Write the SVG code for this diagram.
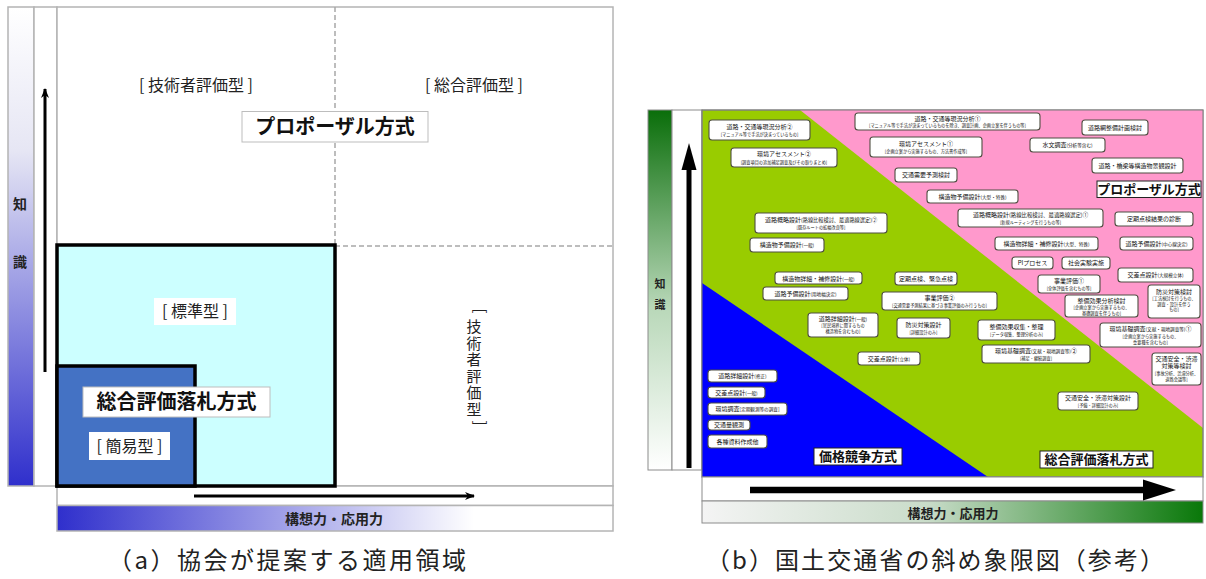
<svg xmlns="http://www.w3.org/2000/svg" width="1206" height="579" viewBox="0 0 1206 579">
<defs>
<linearGradient id="gaV" x1="0" y1="0" x2="0" y2="1"><stop offset="0" stop-color="#ffffff"/><stop offset="0.3" stop-color="#e6e6f4"/><stop offset="1" stop-color="#2f2fcc"/></linearGradient>
<linearGradient id="gaH" x1="0" y1="0" x2="1" y2="0"><stop offset="0" stop-color="#2f2fcc"/><stop offset="0.75" stop-color="#ffffff"/><stop offset="1" stop-color="#ffffff"/></linearGradient>
<linearGradient id="gbV" x1="0" y1="0" x2="0" y2="1"><stop offset="0" stop-color="#0a6e0a"/><stop offset="0.55" stop-color="#b9d8b9"/><stop offset="1" stop-color="#ffffff"/></linearGradient>
<linearGradient id="gbH" x1="0" y1="0" x2="1" y2="0"><stop offset="0" stop-color="#f4f4f4"/><stop offset="0.45" stop-color="#c9dcc9"/><stop offset="1" stop-color="#097809"/></linearGradient>
<marker id="ahA" markerWidth="10" markerHeight="8" refX="9" refY="4" orient="auto" markerUnits="userSpaceOnUse"><path d="M0,0 L10,4 L0,8 L3,4 Z" fill="#000"/></marker>
</defs>
<style>
.fr{fill:#fff;stroke:#b4b4b4;stroke-width:1.5}
.frb{fill:#fff;stroke:#8c8c8c;stroke-width:1}
.dash{stroke:#a8a8a8;stroke-width:1.5;stroke-dasharray:5,3;fill:none}
.thick{stroke:#000;stroke-width:3.5}
.jp{font-family:"Noto Sans CJK JP","Noto Sans CJK SC",sans-serif}
.la{font-size:16px;fill:#222;text-anchor:middle}
.lb{font-size:20px;font-weight:bold;fill:#111;text-anchor:middle}
.ax{font-size:14px;font-weight:bold;fill:#222;text-anchor:middle}
.cap{font-size:24px;fill:#222;text-anchor:middle}
.bx{fill:#fff;stroke:#4f4f42;stroke-width:1.1}
.n{font-size:6px;fill:#111;text-anchor:middle}
.s{font-size:4.2px;fill:#111;text-anchor:middle}
.p{font-size:4.6px}
.lab{fill:#fff;stroke:#222;stroke-width:1}
.lt{font-size:13px;font-weight:bold;fill:#111;text-anchor:middle}
</style>

<!-- Panel (a) -->
<g id="panel-a">
<rect x="8" y="7" width="26" height="479" fill="url(#gaV)" stroke="#b4b4b4" stroke-width="1.5"/>
<rect class="fr" x="34" y="7" width="23" height="479"/>
<rect class="fr" x="57" y="7" width="556" height="479"/>
<rect class="fr" x="57" y="486" width="556" height="19.5"/>
<rect x="57" y="505.5" width="556" height="25.5" fill="url(#gaH)" stroke="#b4b4b4" stroke-width="1.5"/>
<line class="dash" x1="335" y1="7" x2="335" y2="245"/>
<line class="dash" x1="335" y1="246" x2="613" y2="246"/>
<text class="jp ax" x="20" y="209">知</text>
<text class="jp ax" x="20" y="267">識</text>
<text class="jp ax" x="334" y="524">構想力・応用力</text>
</g>
<g id="a-standard">
<rect x="57" y="245" width="278" height="241" fill="#ccffff" class="thick"/>
<rect x="154" y="298" width="82" height="27" fill="#fff"/>
<text class="jp la" x="195" y="317">[ 標準型 ]</text>
</g>
<g id="a-simple">
<rect x="57" y="366" width="138" height="120" fill="#4472c4" class="thick"/>
<rect x="89" y="432" width="81" height="28" fill="#fff"/>
<text class="jp la" x="129.5" y="452">[ 簡易型 ]</text>
</g>
<g id="a-sogo">
<rect x="83" y="387" width="187" height="30" fill="#fff" stroke="#bdbdbd" stroke-width="1"/>
<text class="jp lb" x="176.5" y="409">総合評価落札方式</text>
</g>
<g id="a-proposal">
<rect x="242" y="111.5" width="186" height="30.5" fill="#fff" stroke="#bdbdbd" stroke-width="1"/>
<text class="jp lb" x="335" y="134">プロポーザル方式</text>
</g>
<g id="a-gijutsu">
<text class="jp la" x="196" y="91">[ 技術者評価型 ]</text>
</g>
<g id="a-sogohyoka">
<text class="jp la" x="474" y="91">[ 総合評価型 ]</text>
</g>
<g id="a-gijutsu-v">
<text class="jp" x="480" y="316" font-size="15" fill="#222" text-anchor="middle" transform="rotate(90 480 311)">[</text>
<text class="jp" x="474" y="319" font-size="15" letter-spacing="1.5" fill="#222" style="writing-mode:vertical-rl;text-orientation:upright">技術者評価型</text>
<text class="jp" x="480" y="428" font-size="15" fill="#222" text-anchor="middle" transform="rotate(90 480 423)">]</text>
</g>

<!-- Panel (b) -->
<g id="panel-b">
<rect x="648" y="110" width="24" height="360" fill="url(#gbV)" stroke="#8c8c8c" stroke-width="1"/>
<rect class="frb" x="672" y="110" width="30" height="360"/>
<rect x="702" y="110" width="501" height="367" fill="#99cc00" stroke="#8c8c8c" stroke-width="1"/>
<polygon points="800,110 1203,110 1203,428" fill="#ff99cc"/>
<polygon points="702,283 988,477 702,477" fill="#0000ff"/>
<rect x="702" y="110" width="501" height="367" fill="none" stroke="#7a7a7a" stroke-width="1"/>
<rect class="frb" x="702" y="477" width="501" height="24"/>
<rect x="702" y="501" width="501" height="22" fill="url(#gbH)" stroke="#8c8c8c" stroke-width="1"/>
<text class="jp" x="660" y="288" font-size="11" font-weight="bold" fill="#222" text-anchor="middle">知</text>
<text class="jp" x="660" y="309" font-size="11" font-weight="bold" fill="#222" text-anchor="middle">識</text>
<text class="jp" x="953" y="518" font-size="13" font-weight="bold" fill="#222" text-anchor="middle">構想力・応用力</text>
</g>

<g id="connectors">
<line x1="45" y1="372" x2="45" y2="89" stroke="#000" stroke-width="3" marker-end="url(#ahA)"/>
<line x1="194" y1="496" x2="474" y2="496" stroke="#000" stroke-width="3" marker-end="url(#ahA)"/>
<line x1="689" y1="468" x2="689" y2="168" stroke="#000" stroke-width="5"/>
<polygon points="689,143 681.5,170 696.5,170" fill="#000"/>
<line x1="750" y1="490" x2="1146" y2="490" stroke="#000" stroke-width="6.5"/>
<polygon points="1176,490 1143,479.5 1143,500.5" fill="#000"/>
</g>

<!-- Green nodes -->
<g id="g1"><rect class="bx" x="709" y="120" width="101" height="20" rx="3"/><text class="jp n" x="759.5" y="128.5">道路・交通等現況分析②</text><text class="jp s" x="759.5" y="136">[マニュアル等で手法が決まっているもの]</text></g>
<g id="g2"><rect class="bx" x="731" y="148" width="106" height="19" rx="3"/><text class="jp n" x="784" y="156">環境アセスメント②</text><text class="jp s" x="784" y="163.5">[調査項目の追加補足調査及びその取りまとめ]</text></g>
<g id="g3"><rect class="bx" x="755" y="213" width="132" height="20" rx="3"/><text class="jp n" x="821" y="221.5">道路概略設計<tspan font-size="5.2">(路線比較検討、最適路線選定)②</tspan></text><text class="jp s" x="821" y="229">[既存ルートの拡幅改良等]</text></g>
<g id="g4"><rect class="bx" x="750" y="238" width="74" height="14" rx="3"/><text class="jp n" x="787" y="247">構造物予備設計<tspan class="p">(一般)</tspan></text></g>
<g id="g5"><rect class="bx" x="775" y="272" width="87" height="12" rx="3"/><text class="jp n" x="818.5" y="280.5">構造物詳細・補修設計<tspan class="p">(一般)</tspan></text></g>
<g id="g6"><rect class="bx" x="763" y="287" width="85" height="13" rx="3"/><text class="jp n" x="805.5" y="295.8">道路予備設計<tspan class="p">(用地幅決定)</tspan></text></g>
<g id="g7"><rect class="bx" x="808" y="313" width="70" height="24" rx="3"/><text class="jp n" x="843" y="320.5">道路詳細設計<tspan class="p">(一般)</tspan></text><text class="jp s" x="843" y="327">[官民境界に関するもの</text><text class="jp s" x="843" y="332.5">構造物を含むもの]</text></g>
<g id="g8"><rect class="bx" x="895" y="272" width="62" height="13" rx="3"/><text class="jp n" x="926" y="281">定期点検、緊急点検</text></g>
<g id="g9"><rect class="bx" x="882" y="292" width="115" height="18" rx="3"/><text class="jp n" x="939.5" y="300">事業評価②</text><text class="jp s" x="939.5" y="307">[交通需要予測結果に基づき事業評価のみ行うもの]</text></g>
<g id="g10"><rect class="bx" x="897" y="318" width="53" height="20" rx="3"/><text class="jp n" x="923.5" y="326.5">防災対策設計</text><text class="jp s" x="923.5" y="333.5">[詳細設計のみ]</text></g>
<g id="g11"><rect class="bx" x="858" y="352" width="62" height="13" rx="3"/><text class="jp n" x="889" y="361">交差点設計<tspan class="p">(立体)</tspan></text></g>
<g id="g12"><rect class="bx" x="978" y="320" width="77" height="20" rx="3"/><text class="jp n" x="1016.5" y="328.5">整備効果収集・整理</text><text class="jp s" x="1016.5" y="335.5">[データ収集、整理分析のみ]</text></g>
<g id="g13"><rect class="bx" x="982" y="345" width="108" height="18" rx="3"/><text class="jp n" x="1036" y="353">環境基礎調査<tspan class="p">(文献・現地調査等)</tspan>②</text><text class="jp s" x="1036" y="360">[補足・継続調査]</text></g>
<g id="g14"><rect class="bx" x="1058" y="392" width="80" height="18" rx="3"/><text class="jp n" x="1098" y="400">交通安全・渋滞対策設計</text><text class="jp s" x="1098" y="407">[予備・詳細設計のみ]</text></g>

<!-- Pink nodes -->
<g id="p1"><rect class="bx" x="855" y="113" width="185" height="17" rx="3"/><text class="jp n" x="947.5" y="120.5">道路・交通等現況分析①</text><text class="jp s" x="947.5" y="127">[マニュアル等で手法が決まっているものを除き、調査計画、企画立案を伴うもの等]</text></g>
<g id="p2"><rect class="bx" x="870" y="137" width="112" height="20" rx="3"/><text class="jp n" x="926" y="145.5">環境アセスメント①</text><text class="jp s" x="926" y="152.5">[企画立案から実施するもの、方法書作成等]</text></g>
<g id="p3"><rect class="bx" x="895" y="168" width="62" height="14" rx="3"/><text class="jp n" x="926" y="177">交通需要予測検討</text></g>
<g id="p4"><rect class="bx" x="927" y="190" width="91" height="13" rx="3"/><text class="jp n" x="972.5" y="199">構造物予備設計<tspan class="p">(大型・特殊)</tspan></text></g>
<g id="p5"><rect class="bx" x="958" y="209" width="145" height="18" rx="3"/><text class="jp n" x="1030.5" y="217">道路概略設計<tspan font-size="5.4">(路線比較検討、最適路線選定)①</tspan></text><text class="jp s" x="1030.5" y="224">[新規ルーティングを行うもの等]</text></g>
<g id="p6"><rect class="bx" x="1082" y="120" width="66" height="15" rx="3"/><text class="jp n" x="1115" y="129.5">道路網整備計画検討</text></g>
<g id="p7"><rect class="bx" x="1030" y="138" width="75" height="14" rx="3"/><text class="jp n" x="1067.5" y="147">水文調査<tspan class="p">(分析等含む)</tspan></text></g>
<g id="p8"><rect class="bx" x="1092" y="158" width="91" height="15" rx="3"/><text class="jp n" x="1137.5" y="167.5">道路・橋梁等構造物景観設計</text></g>
<g id="p9"><rect class="lab" x="1097" y="181" width="104" height="16.5"/><text class="jp lt" x="1149" y="194" font-size="12.5">プロポーザル方式</text></g>
<g id="p10"><rect class="bx" x="1115" y="212" width="78" height="14" rx="3"/><text class="jp n" x="1154" y="221">定期点検結果の診断</text></g>
<g id="p11"><rect class="bx" x="995" y="237" width="103" height="13" rx="3"/><text class="jp n" x="1046.5" y="246">構造物詳細・補修設計<tspan class="p">(大型、特殊)</tspan></text></g>
<g id="p12"><rect class="bx" x="1012" y="257" width="41" height="12" rx="3"/><text class="jp n" x="1032.5" y="265.3">PIプロセス</text></g>
<g id="p13"><rect class="bx" x="1062" y="257" width="48" height="12" rx="3"/><text class="jp n" x="1086" y="265.3">社会実験実施</text></g>
<g id="p14"><rect class="bx" x="1120" y="237" width="73" height="13" rx="3"/><text class="jp n" x="1156.5" y="246">道路予備設計<tspan class="p">(中心線決定)</tspan></text></g>
<g id="p15"><rect class="bx" x="1118" y="268" width="75" height="14" rx="3"/><text class="jp n" x="1155.5" y="277">交差点設計<tspan class="p">(大規模立体)</tspan></text></g>
<g id="p16"><rect class="bx" x="1038" y="275" width="62" height="18" rx="3"/><text class="jp n" x="1069" y="283">事業評価①</text><text class="jp s" x="1069" y="290">[全体評価を含むもの等]</text></g>
<g id="p17"><rect class="bx" x="1065" y="295" width="73" height="22" rx="3"/><text class="jp n" x="1101.5" y="302.5">整備効果分析検討</text><text class="jp s" x="1101.5" y="309">[企画立案から実施するもの、</text><text class="jp s" x="1101.5" y="314.5">基礎調査を伴うもの]</text></g>
<g id="p18"><rect class="bx" x="1148" y="285" width="52" height="33" rx="3"/><text class="jp n" x="1174" y="293.5">防災対策検討</text><text class="jp s" x="1174" y="300">[工法検討を行うもの、</text><text class="jp s" x="1174" y="305.5">調査・設計を伴う</text><text class="jp s" x="1174" y="311">もの]</text></g>
<g id="p19"><rect class="bx" x="1100" y="323" width="101" height="24" rx="3"/><text class="jp n" x="1150.5" y="331">環境基礎調査<tspan class="p">(文献・現地調査等)</tspan>①</text><text class="jp s" x="1150.5" y="338">[企画立案から実施するもの、</text><text class="jp s" x="1150.5" y="343.5">重要種を含むもの]</text></g>
<g id="p20"><rect class="bx" x="1152" y="353" width="49" height="32" rx="3"/><text class="jp n" x="1176.5" y="361">交通安全・渋滞</text><text class="jp n" x="1176.5" y="368">対策等検討</text><text class="jp s" x="1176.5" y="375" font-size="4">[事故分析、渋滞分析、</text><text class="jp s" x="1176.5" y="380.5" font-size="4">道路会議等]</text></g>

<!-- Blue nodes -->
<g id="b1"><rect class="bx" x="708" y="370" width="69" height="12" rx="3"/><text class="jp n" x="742.5" y="378.3">道路詳細設計<tspan class="p">(修正)</tspan></text></g>
<g id="b2"><rect class="bx" x="708" y="387" width="57" height="11" rx="3"/><text class="jp n" x="736.5" y="394.8">交差点設計<tspan class="p">(一般)</tspan></text></g>
<g id="b3"><rect class="bx" x="708" y="403" width="79" height="12" rx="3"/><text class="jp n" x="747.5" y="411.3">環境調査<tspan class="p">[定期観測等の調査]</tspan></text></g>
<g id="b4"><rect class="bx" x="708" y="420" width="42" height="10" rx="3"/><text class="jp n" x="729" y="427.3">交通量観測</text></g>
<g id="b5"><rect class="bx" x="708" y="435" width="59" height="13" rx="3"/><text class="jp n" x="737.5" y="443.8">各種資料作成他</text></g>

<g id="b-kakaku"><rect class="lab" x="814" y="448" width="88" height="17"/><text class="jp lt" x="858" y="461">価格競争方式</text></g>
<g id="b-sogo"><rect class="lab" x="1040" y="451" width="113" height="17"/><text class="jp lt" x="1096.5" y="464">総合評価落札方式</text></g>

<g id="captions">
<text class="jp cap" x="287" y="569" textLength="358" lengthAdjust="spacing">（a）協会が提案する適用領域</text>
<text class="jp cap" x="935" y="569" textLength="458" lengthAdjust="spacing">（b）国土交通省の斜め象限図（参考）</text>
</g>
</svg>
